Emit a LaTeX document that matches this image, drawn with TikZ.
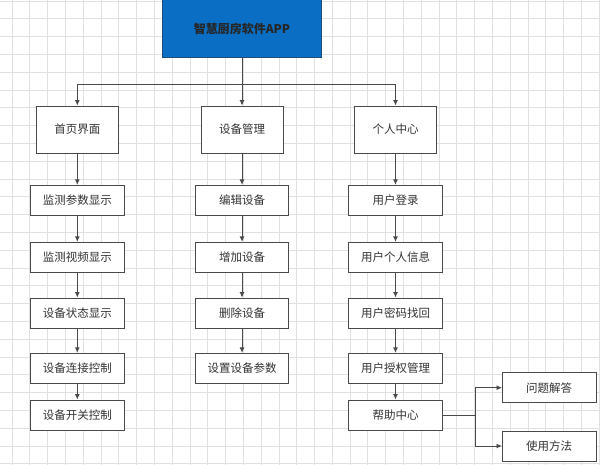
\documentclass[tikz,border=0pt]{standalone}
\usepackage{fontspec}
\setmainfont{Noto Sans CJK SC}
\usetikzlibrary{arrows.meta}
\definecolor{gridc}{HTML}{E0E0E0}
\definecolor{linec}{HTML}{4A4A4A}
\definecolor{txtc}{HTML}{333333}
\definecolor{topblue}{HTML}{0A6FC4}
\definecolor{topedge}{HTML}{1F4E79}
\tikzset{
  box/.style={draw=linec, line width=0.9pt, fill=white, text=txtc, font=\fontsize{11.5}{13}\selectfont, inner sep=0pt, minimum width=93.5pt, minimum height=30pt},
  bigbox/.style={box, minimum width=82pt, minimum height=47pt},
  topbox/.style={draw=topedge, line width=0.9pt, fill=topblue, text=black!85, font=\bfseries\fontsize{12}{14}\selectfont, inner sep=0pt, minimum width=159.6pt, minimum height=57.3pt},
  conn/.style={draw=linec, line width=0.9pt},
  arr/.style={conn, -{Latex[length=5.5pt,width=5pt]}},
}
\begin{document}
\begin{tikzpicture}[x=1pt,y=-1pt]
\useasboundingbox (0,0) rectangle (600,465);
% grid
\foreach \i in {0,...,34} { \draw[gridc, line width=0.7pt] ({12+17.79*\i},0) -- ({12+17.79*\i},465); }
\foreach \j in {0,...,26} { \draw[gridc, line width=0.7pt] (0,{1+17.8*\j}) -- (600,{1+17.8*\j}); }
% top
\node[topbox] (top) at (242,28.6) {智慧厨房软件APP};
% level 1
\node[bigbox] (home) at (77.3,129.5) {首页界面};
\node[bigbox] (dev) at (242,129.5) {设备管理};
\node[bigbox] (me) at (395.5,129.5) {个人中心};
% column 1
\node[box] (a1) at (77.3,200.3) {监测参数显示};
\node[box] (a2) at (77.3,257.3) {监测视频显示};
\node[box] (a3) at (77.3,313) {设备状态显示};
\node[box] (a4) at (77.3,368.3) {设备连接控制};
\node[box] (a5) at (77.3,415) {设备开关控制};
% column 2
\node[box] (b1) at (242,200.3) {编辑设备};
\node[box] (b2) at (242,257.3) {增加设备};
\node[box] (b3) at (242,313) {删除设备};
\node[box] (b4) at (242,368.3) {设置设备参数};
% column 3
\node[box] (c1) at (395.5,200.3) {用户登录};
\node[box] (c2) at (395.5,257.3) {用户个人信息};
\node[box] (c3) at (395.5,313) {用户密码找回};
\node[box] (c4) at (395.5,368.3) {用户授权管理};
\node[box] (c5) at (395.5,415) {帮助中心};
% right
\node[box] (q1) at (549.2,387.7) {问题解答};
\node[box] (q2) at (549.2,446) {使用方法};
% trunk
\coordinate (j) at (242,84);
\draw[conn] (top.south) -- (j);
\draw[arr] (j) -| (home.north);
\draw[arr] (j) -- (dev.north);
\draw[arr] (j) -| (me.north);
% columns
\draw[arr] (home) -- (a1);
\draw[arr] (a1) -- (a2);
\draw[arr] (a2) -- (a3);
\draw[arr] (a3) -- (a4);
\draw[arr] (a4) -- (a5);
\draw[arr] (dev) -- (b1);
\draw[arr] (b1) -- (b2);
\draw[arr] (b2) -- (b3);
\draw[arr] (b3) -- (b4);
\draw[arr] (me) -- (c1);
\draw[arr] (c1) -- (c2);
\draw[arr] (c2) -- (c3);
\draw[arr] (c3) -- (c4);
\draw[arr] (c4) -- (c5);
% help branches
\coordinate (h) at (475.7,415);
\draw[conn] (c5.east) -- (h);
\draw[arr] (h) |- (q1.west);
\draw[arr] (h) |- (q2.west);
\end{tikzpicture}
\end{document}
